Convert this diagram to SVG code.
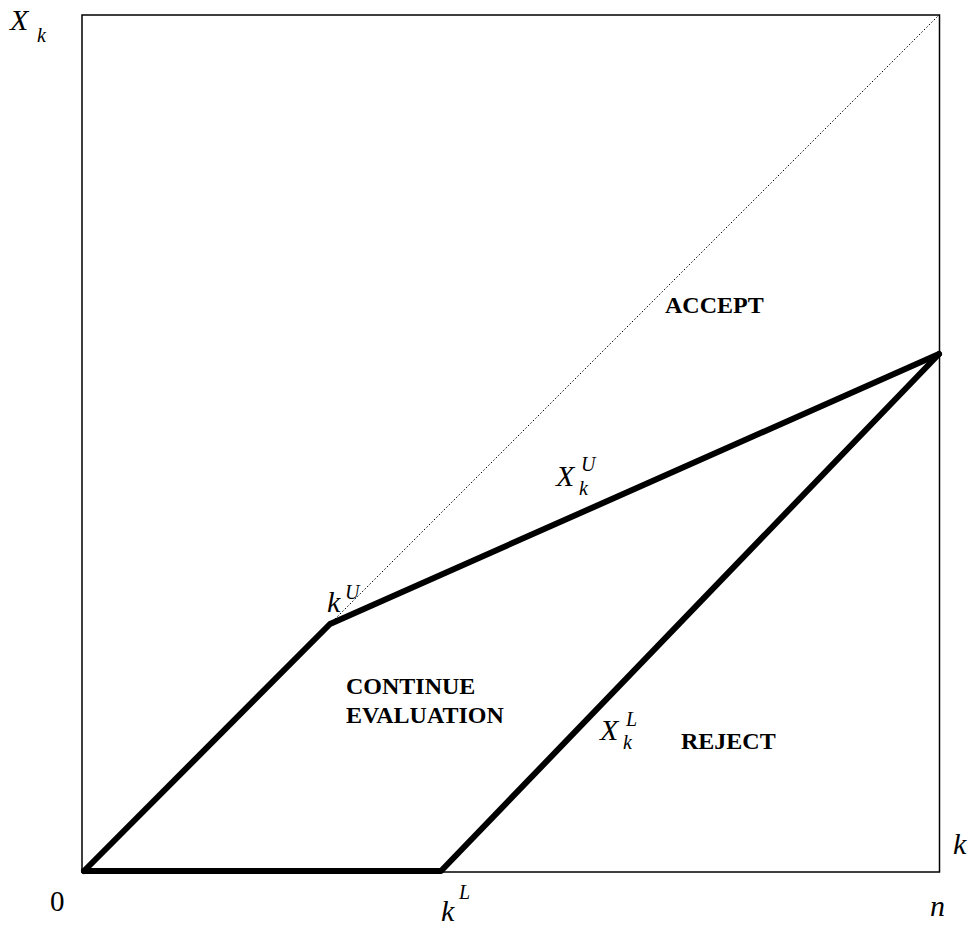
<svg xmlns="http://www.w3.org/2000/svg" width="972" height="933" viewBox="0 0 972 933">
<style>
.it{font-family:"Liberation Serif","Times New Roman",serif;font-style:italic;font-size:30px;fill:#000}
.sub{font-size:20px}
.rm{font-family:"Liberation Serif","Times New Roman",serif;font-size:29px;fill:#000}
.bd{font-family:"Liberation Serif","Times New Roman",serif;font-weight:bold;font-size:24px;fill:#000}
.thick{stroke:#000;stroke-width:6;fill:none;stroke-linejoin:round;stroke-linecap:round}
</style>
<rect width="972" height="933" fill="#fff"/>
<g id="frame">
<rect x="82" y="15" width="857.5" height="857" fill="none" stroke="#000" stroke-width="1.5"/>
</g>
<g id="connectors">
<line x1="330" y1="624" x2="939" y2="15" stroke="#000" stroke-width="1" stroke-dasharray="1.5,2"/>
<polyline class="thick" points="84,871 330,624 939,354"/>
<polyline class="thick" points="84,871 441,871 939,354"/>
</g>
<g id="labels">
<text class="it" x="10" y="30">X<tspan class="sub" x="37" y="42">k</tspan></text>
<text class="it" x="327" y="612">k<tspan class="sub" x="345" y="599">U</tspan></text>
<text class="it" x="556" y="486">X<tspan class="sub" x="579" y="495">k</tspan><tspan class="sub" x="581" y="471">U</tspan></text>
<text class="it" x="600" y="740">X<tspan class="sub" x="623" y="749">k</tspan><tspan class="sub" x="626" y="726">L</tspan></text>
<text class="it" x="441" y="921">k<tspan class="sub" x="459" y="899">L</tspan></text>
<text class="rm" x="50" y="911">0</text>
<text class="it" x="930" y="916">n</text>
<text class="it" x="953" y="854">k</text>
<text class="bd" x="665" y="313">ACCEPT</text>
<text class="bd" x="346" y="694">CONTINUE</text>
<text class="bd" x="346" y="723">EVALUATION</text>
<text class="bd" x="681" y="749">REJECT</text>
</g>
</svg>
